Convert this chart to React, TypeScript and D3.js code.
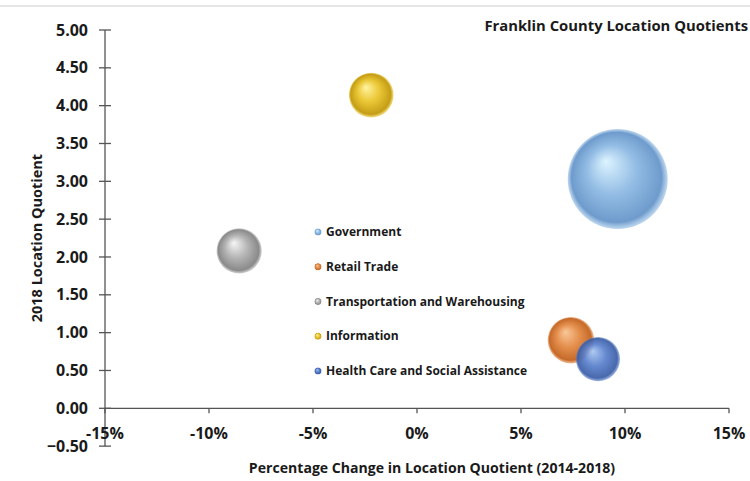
import * as d3 from "d3";
import type React from "react";

// industries
const industries = [
	"Government",
	"Retail Trade",
	"Transportation and Warehousing",
	"Information",
	"Health Care and Social Assistance",
];
const pctChange = [9.65, 7.4, -8.55, -2.2, 8.7]; // % change in LQ 2014-2018
const lq2018 = [3.03, 0.9, 2.08, 4.14, 0.65];
const bubbleSize = [100, 21.5, 20.5, 20, 19.5];

const xTicks = [-15, -10, -5, 0, 5, 10, 15];
const yTicks = [-0.5, 0, 0.5, 1, 1.5, 2, 2.5, 3, 3.5, 4, 4.5, 5];

// highlight, base, edge
const palette: [string, string, string][] = [
	["#ddf4ff", "#92bce4", "#6e9bcc"],
	["#f9c89a", "#e48e4c", "#c56a2a"],
	["#f6f6f6", "#b4b4b4", "#8a8a8a"],
	["#fff4a0", "#eac634", "#c49d17"],
	["#a9c6f2", "#5a80cc", "#3c5ea6"],
];

const W = 750;
const H = 481;
const font = "'Open Sans', Lato, sans-serif";

const App: React.FC = () => {
	const x = d3.scaleLinear().domain([-15, 15]).range([105, 729]);
	const y = d3.scaleLinear().domain([0, 5]).range([408.3, 30]);
	const r = d3
		.scaleSqrt()
		.domain([0, d3.max(bubbleSize) as number])
		.range([0, 50]);

	const legendY = d3
		.scalePoint<string>()
		.domain(industries)
		.range([232, 371]);

	const order = [0, 2, 3, 1, 4];

	return (
		<svg
			width={W}
			height={H}
			style={{ position: "absolute", left: 0, top: 0, background: "#fff" }}
			fontFamily={font}
		>
			<defs>
				{palette.map(([hi, base, edge], i) => (
					<radialGradient
						key={i}
						id={`ball${i}`}
						cx="50%"
						cy="50%"
						r="50%"
						fx="38%"
						fy="32%"
					>
						<stop offset="0%" stopColor={hi} />
						<stop offset="50%" stopColor={base} />
						<stop offset="90%" stopColor={edge} />
						<stop offset="100%" stopColor={base} stopOpacity={0.6} />
					</radialGradient>
				))}
				<filter id="soft" x="-10%" y="-10%" width="120%" height="120%">
					<feGaussianBlur stdDeviation="0.7" />
				</filter>
			</defs>

			<line x1={0} x2={W} y1={6} y2={6} stroke="#e6e6e6" strokeWidth={2} />

			<text
				x={748}
				y={31}
				textAnchor="end"
				fontSize={14.8}
				fontWeight="bold"
				fill="#1a1a1a"
			>
				Franklin County Location Quotients
			</text>

			{/* y axis */}
			<line x1={x(-15)} x2={x(-15)} y1={y(5)} y2={y(-0.5)} stroke="#555" strokeWidth={1.3} />
			{yTicks.map((t) => (
				<g key={t}>
					<line
						x1={x(-15) - 6}
						x2={x(-15) + 6}
						y1={y(t)}
						y2={y(t)}
						stroke="#555"
						strokeWidth={1.3}
					/>
					<text
						x={88}
						y={y(t)}
						dy="0.35em"
						textAnchor="end"
						fontSize={16}
						fontWeight="bold"
						fill="#1a1a1a"
					>
						{d3.format(".2f")(t)}
					</text>
				</g>
			))}

			{/* x axis at 0 */}
			<line x1={x(-15)} x2={x(15)} y1={y(0)} y2={y(0)} stroke="#555" strokeWidth={1.3} />
			{xTicks.map((t) => (
				<g key={t}>
					<line
						x1={x(t)}
						x2={x(t)}
						y1={y(0)}
						y2={y(0) + 5}
						stroke="#555"
						strokeWidth={1.3}
					/>
					<text
						x={x(t)}
						y={y(0) + 31}
						textAnchor="middle"
						fontSize={16}
						fontWeight="bold"
						fill="#1a1a1a"
					>
						{`${t}%`}
					</text>
				</g>
			))}

			<text
				transform={`translate(42,${(y(5) + y(-0.5)) / 2}) rotate(-90)`}
				textAnchor="middle"
				fontSize={14.5}
				fontWeight="bold"
				fill="#1a1a1a"
			>
				2018 Location Quotient
			</text>
			<text
				x={432}
				y={473}
				textAnchor="middle"
				fontSize={14.1}
				fontWeight="bold"
				fill="#1a1a1a"
			>
				Percentage Change in Location Quotient (2014-2018)
			</text>

			{/* bubbles */}
			{order.map((i) => (
				<circle
					key={industries[i]}
					cx={x(pctChange[i])}
					cy={y(lq2018[i])}
					r={r(bubbleSize[i])}
					fill={`url(#ball${i})`}
					opacity={i === 4 ? 0.93 : 1}
					filter="url(#soft)"
				/>
			))}

			{/* legend */}
			{industries.map((name, i) => (
				<g key={name} transform={`translate(318,${legendY(name)})`}>
					<circle r={3.6} fill={`url(#ball${i})`} />
					<text x={8} dy="0.35em" fontSize={12} fontWeight="bold" fill="#1a1a1a">
						{name}
					</text>
				</g>
			))}
		</svg>
	);
};

export default App;
